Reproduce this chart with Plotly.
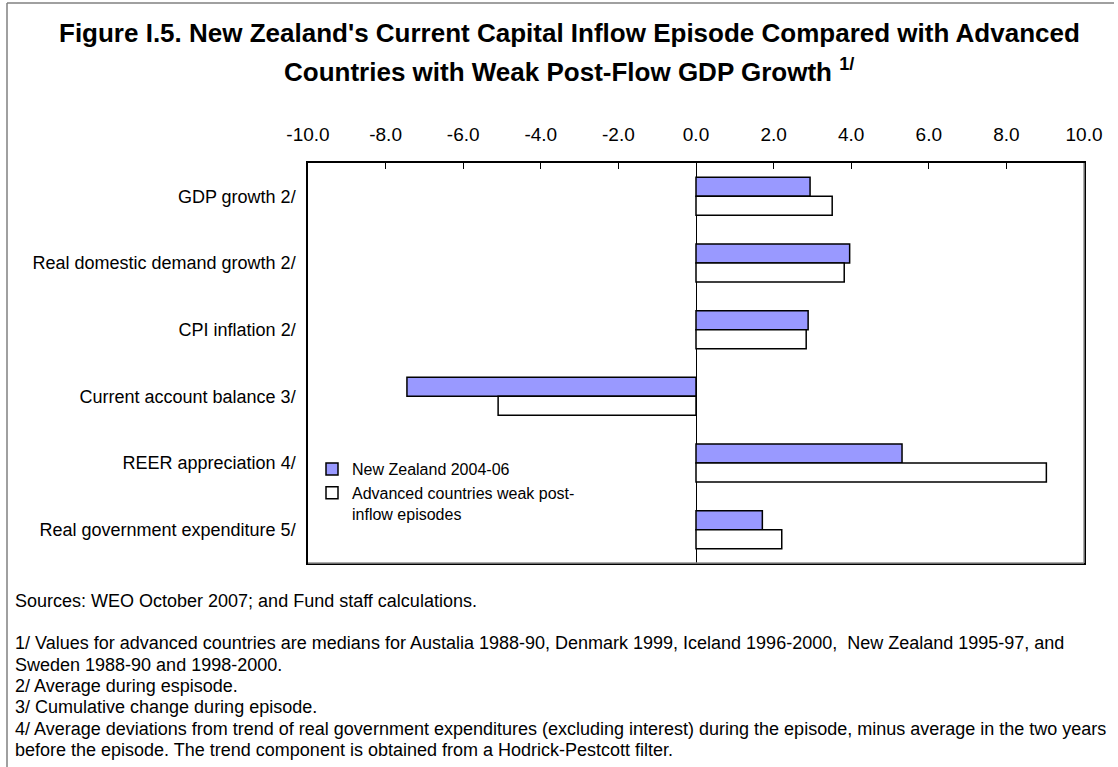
import plotly.graph_objects as go

categories = [
    "GDP growth 2/",
    "Real domestic demand growth 2/",
    "CPI inflation 2/",
    "Current account balance 3/",
    "REER appreciation 4/",
    "Real government expenditure 5/",
]
nz_values = [2.94, 3.96, 2.89, -7.45, 5.31, 1.71]
adv_values = [3.51, 3.82, 2.84, -5.10, 9.03, 2.21]
series_names = ["New Zealand 2004-06", "Advanced countries weak post-<br>inflow episodes"]
x_ticks = [-10, -8, -6, -4, -2, 0, 2, 4, 6, 8, 10]
x_ticktext = [f"{v:.1f}" for v in x_ticks]

title_lines = [
    "Figure I.5. New Zealand's Current Capital Inflow Episode Compared with Advanced",
    "Countries with Weak Post-Flow GDP Growth <sup>1/</sup>",
]
footnotes = [
    "Sources: WEO October 2007; and Fund staff calculations.",
    "1/ Values for advanced countries are medians for Austalia 1988-90, Denmark 1999, Iceland 1996-2000,  New Zealand 1995-97, and",
    "Sweden 1988-90 and 1998-2000.",
    "2/ Average during espisode.",
    "3/ Cumulative change during episode.",
    "4/ Average deviations from trend of real government expenditures (excluding interest) during the episode, minus average in the two years",
    "before the episode. The trend component is obtained from a Hodrick-Pestcott filter.",
]
footnote_y = [601, 643, 665, 686, 707, 729, 750]

W, H = 1118, 767
L, R, T, B = 308, 1084, 163, 563
FONT = "Liberation Sans, Arial, sans-serif"


def px(x):
    return (x - L) / (R - L)


def py(y):
    return (B - y) / (B - T)


fig = go.Figure()
fig.add_trace(go.Bar(
    y=categories, x=nz_values, orientation="h", name=series_names[0],
    marker=dict(color="#9999FF", line=dict(color="black", width=1.5)),
    legendgroup="a",
))
fig.add_trace(go.Bar(
    y=categories, x=adv_values, orientation="h", name=series_names[1],
    marker=dict(color="white", line=dict(color="black", width=1.5)),
    legendgroup="b",
))

annotations = []
annotations.append(dict(text="<b>" + title_lines[0] + "</b>", x=px(569), y=py(33), xref="paper", yref="paper",
                        xanchor="center", yanchor="middle", showarrow=False,
                        font=dict(family=FONT, size=26, color="black")))
annotations.append(dict(text="<b>" + title_lines[1] + "</b>", x=px(569), y=py(70), xref="paper", yref="paper",
                        xanchor="center", yanchor="middle", showarrow=False,
                        font=dict(family=FONT, size=26, color="black")))
for txt, yy in zip(footnotes, footnote_y):
    annotations.append(dict(text=txt, x=px(13), y=py(yy), xref="paper", yref="paper",
                            xanchor="left", yanchor="middle", showarrow=False, align="left",
                            font=dict(family=FONT, size=18, color="black")))

shapes = [
    # outer frame (top and left)
    dict(type="line", xref="paper", yref="paper", x0=px(7), x1=px(1114), y0=py(3), y1=py(3),
         line=dict(color="#808080", width=1.5)),
    dict(type="line", xref="paper", yref="paper", x0=px(7), x1=px(7), y0=py(3), y1=py(767),
         line=dict(color="#808080", width=1.5)),
    # gray right and bottom of plot area
    dict(type="line", xref="paper", yref="paper", x0=1, x1=1, y0=0, y1=1,
         line=dict(color="#909090", width=1.5)),
    dict(type="line", xref="paper", yref="paper", x0=0, x1=1, y0=0, y1=0,
         line=dict(color="#909090", width=1.5)),
]

fig.update_layout(
    width=W, height=H,
    margin=dict(l=L, r=W - R, t=T, b=H - B, autoexpand=False),
    paper_bgcolor="white", plot_bgcolor="white",
    barmode="group", bargap=0.43, bargroupgap=0,
    font=dict(family=FONT, size=18, color="black"),
    showlegend=True,
    legend=dict(x=px(312), y=py(452), xanchor="left", yanchor="top",
                bgcolor="rgba(0,0,0,0)", font=dict(family=FONT, size=16, color="black"),
                traceorder="normal", tracegroupgap=18, valign="top",
                itemwidth=30),
    annotations=annotations,
    shapes=shapes,
)
fig.update_xaxes(
    side="top", range=[-10, 10], tickvals=x_ticks, ticktext=x_ticktext,
    ticks="inside", ticklen=6, tickcolor="black", tickwidth=1,
    showgrid=False, zeroline=True, zerolinecolor="black", zerolinewidth=1.2,
    showline=True, linecolor="black", linewidth=1.5, mirror=True,
    tickfont=dict(family=FONT, size=19, color="black"), ticklabelstandoff=13,
    fixedrange=True,
)
fig.update_yaxes(
    autorange="reversed", showgrid=False, ticks="",
    showline=True, linecolor="black", linewidth=1.5, mirror=True,
    tickfont=dict(family=FONT, size=18, color="black"), ticklabelstandoff=7,
    fixedrange=True,
)

fig.write_html("out.html", config={"displayModeBar": False},
               post_script="document.body.style.margin='0px';")
